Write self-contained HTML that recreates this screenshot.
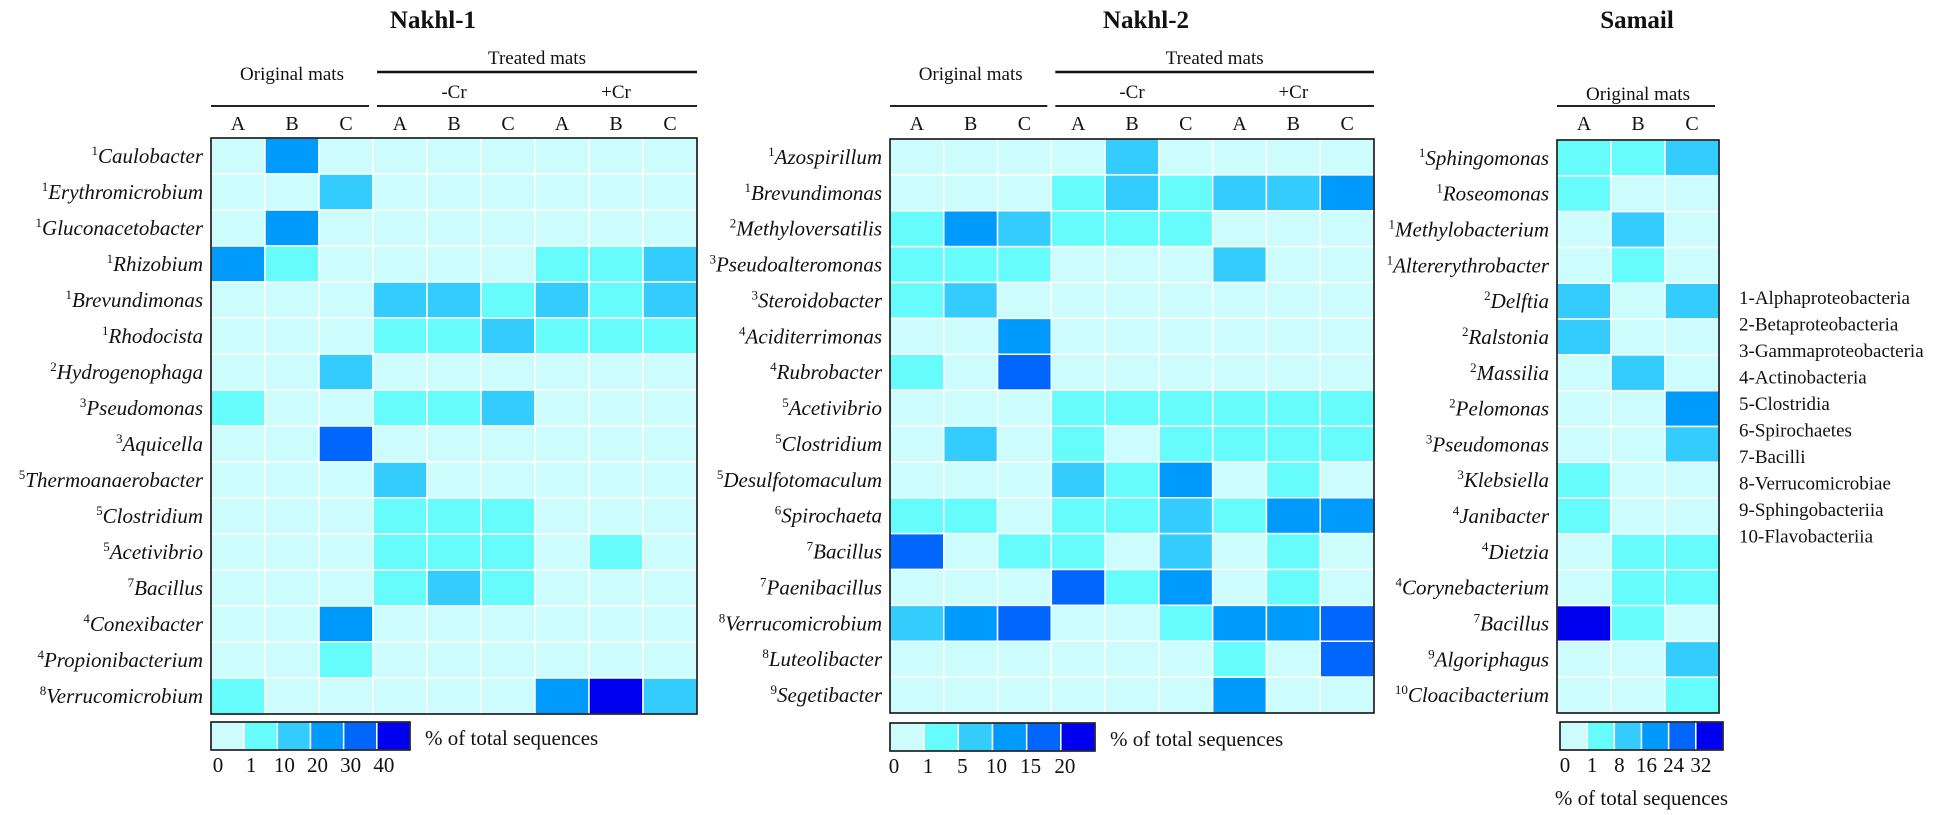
<!DOCTYPE html>
<html><head><meta charset="utf-8"><style>
html,body{margin:0;padding:0;background:#fff;}
svg text{font-family:"Liberation Serif",serif;fill:#111;}
</style></head><body>
<svg id="chart" width="1950" height="810" xmlns="http://www.w3.org/2000/svg"></svg>
<script>
const palette = ['#ccfcfc','#66fcfc','#33ccfc','#0099fc','#0066fc','#0000f0'];
const colLabels = ['A','B','C','A','B','C','A','B','C'];
const colLabels3 = ['A','B','C'];

const n1Rows = ['Caulobacter','Erythromicrobium','Gluconacetobacter','Rhizobium','Brevundimonas','Rhodocista','Hydrogenophaga','Pseudomonas','Aquicella','Thermoanaerobacter','Clostridium','Acetivibrio','Bacillus','Conexibacter','Propionibacterium','Verrucomicrobium'];
const n1Class = [1,1,1,1,1,1,2,3,3,5,5,5,7,4,4,8];
const n1Values = [
[0,3,0,0,0,0,0,0,0],[0,0,2,0,0,0,0,0,0],[0,3,0,0,0,0,0,0,0],[3,1,0,0,0,0,1,1,2],
[0,0,0,2,2,1,2,1,2],[0,0,0,1,1,2,1,1,1],[0,0,2,0,0,0,0,0,0],[1,0,0,1,1,2,0,0,0],
[0,0,4,0,0,0,0,0,0],[0,0,0,2,0,0,0,0,0],[0,0,0,1,1,1,0,0,0],[0,0,0,1,1,1,0,1,0],
[0,0,0,1,2,1,0,0,0],[0,0,3,0,0,0,0,0,0],[0,0,1,0,0,0,0,0,0],[1,0,0,0,0,0,3,5,2]];
const n1Ticks = ['0','1','10','20','30','40'];

const n2Rows = ['Azospirillum','Brevundimonas','Methyloversatilis','Pseudoalteromonas','Steroidobacter','Aciditerrimonas','Rubrobacter','Acetivibrio','Clostridium','Desulfotomaculum','Spirochaeta','Bacillus','Paenibacillus','Verrucomicrobium','Luteolibacter','Segetibacter'];
const n2Class = [1,1,2,3,3,4,4,5,5,5,6,7,7,8,8,9];
const n2Values = [
[0,0,0,0,2,0,0,0,0],[0,0,0,1,2,1,2,2,3],[1,3,2,1,1,1,0,0,0],[1,1,1,0,0,0,2,0,0],
[1,2,0,0,0,0,0,0,0],[0,0,3,0,0,0,0,0,0],[1,0,4,0,0,0,0,0,0],[0,0,0,1,1,1,1,1,1],
[0,2,0,1,0,1,1,1,1],[0,0,0,2,1,3,0,1,0],[1,1,0,1,1,2,1,3,3],[4,0,1,1,0,2,0,1,0],
[0,0,0,4,1,3,0,1,0],[2,3,4,0,0,1,3,3,4],[0,0,0,0,0,0,1,0,4],[0,0,0,0,0,0,3,0,0]];
const n2Ticks = ['0','1','5','10','15','20'];

const sRows = ['Sphingomonas','Roseomonas','Methylobacterium','Altererythrobacter','Delftia','Ralstonia','Massilia','Pelomonas','Pseudomonas','Klebsiella','Janibacter','Dietzia','Corynebacterium','Bacillus','Algoriphagus','Cloacibacterium'];
const sClass = [1,1,1,1,2,2,2,2,3,3,4,4,4,7,9,10];
const sValues = [[1,1,2],[1,0,0],[0,2,0],[0,1,0],[2,0,2],[2,0,0],[0,2,0],[0,0,3],[0,0,2],[1,0,0],[1,0,0],[0,1,1],[0,1,1],[5,1,0],[0,0,2],[0,0,1]];
const sTicks = ['0','1','8','16','24','32'];
const classLegend = ['1-Alphaproteobacteria','2-Betaproteobacteria','3-Gammaproteobacteria','4-Actinobacteria','5-Clostridia','6-Spirochaetes','7-Bacilli','8-Verrucomicrobiae','9-Sphingobacteriia','10-Flavobacteriia'];

const svg = document.getElementById('chart');
const NS = 'http://www.w3.org/2000/svg';
function mk(tag, attrs, parent){const e=document.createElementNS(NS,tag);for(const k in attrs)e.setAttribute(k,attrs[k]);(parent||svg).appendChild(e);return e;}
function txt(s, x, y, size, anchor, extra, parent){const t=mk('text',Object.assign({x:x,y:y,'font-size':size,'text-anchor':anchor||'middle'},extra||{}),parent);t.textContent=s;return t;}

function panel(key, title, titleX, rows, cls, vals, cols, x0, y0, w, h, treated, ticks, legMode){
  const g = mk('g',{});
  
  
  const nC = cols.length, nR = rows.length;
  const cw = w/nC, rh = h/nR;
  const xs = c => x0 + c*cw;
  const ys = r => y0 + r*rh;
  const tt = txt(title, titleX, 28, 25, 'middle', {'font-weight':'bold'}, g);
  
  
  // headers
  const origW = 3*cw;
  const ot = txt('Original mats', x0+origW/2, treated?80:100, 19, 'middle', {}, g);
  
  
  mk('line',{x1:x0,x2:x0+origW-4,y1:106,y2:106,stroke:'#222','stroke-width':2},g);
  if(treated){
    const tx = x0+origW+4, tw = w-origW-4;
    const th = txt('Treated mats', tx+tw/2, 64, 19, 'middle', {}, g);
    
    
    mk('line',{x1:tx,x2:x0+w,y1:72,y2:72,stroke:'#111','stroke-width':2.5},g);
    const m = txt('-Cr', x0+4.5*cw, 98, 19, 'middle', {}, g);
    
    
    const p = txt('+Cr', x0+7.5*cw, 98, 19, 'middle', {}, g);
    
    
    mk('line',{x1:tx,x2:x0+w,y1:106,y2:106,stroke:'#222','stroke-width':2},g);
  }
  cols.forEach((c,i)=>{
    const t = txt(c, xs(i)+cw/2, 130, 20, 'middle', {}, g);
    
    
  });
  // cells
  vals.forEach((row,r)=>{
    row.forEach((v,c)=>{
      const rc = mk('rect',{x:xs(c),y:ys(r),width:cw,height:rh,fill:palette[v],stroke:'#fff','stroke-width':1.5},g);
      
      
    });
  });
  mk('rect',{x:x0,y:y0,width:w,height:h,fill:'none',stroke:'#111','stroke-width':1.6},g);
  // row labels
  rows.forEach((name,r)=>{
    const t = mk('text',{x:x0-8,y:ys(r)+rh/2+7,'font-size':21,'text-anchor':'end','font-style':'italic'},g);
    const sup = document.createElementNS(NS,'tspan');
    sup.setAttribute('font-size','13'); sup.setAttribute('dy','-8'); sup.setAttribute('font-style','normal');
    sup.textContent = cls[r];
    const nm = document.createElementNS(NS,'tspan');
    nm.setAttribute('dy','8');
    nm.textContent = name;
    t.appendChild(sup); t.appendChild(nm);
    
    
  });
  // color legend
  const lx = legMode.x, ly = legMode.y, lw = legMode.w, lh = 28;
  const lc = lw/6;
  const lg = mk('g',{},g);
  
  
  palette.forEach((col,i)=>{
    const r = mk('rect',{x:lx+i*lc,y:ly,width:lc,height:lh,fill:col,stroke:'#fff','stroke-width':1.5},lg);
    
    
  });
  mk('rect',{x:lx,y:ly,width:lw,height:lh,fill:'none',stroke:'#111','stroke-width':1.6},lg);
  ticks.forEach((t,i)=>{
    const tx = txt(t, lx+i*lc+(legMode.tickOff||6), ly+lh+22, 21, 'middle', {}, lg);
    
    
  });
  const lt = legMode.below
    ? txt('% of total sequences', lx+lw/2, ly+lh+55, 21, 'middle', {}, lg)
    : txt('% of total sequences', lx+lw+15, ly+lh-5, 21, 'start', {}, lg);
  
  
}

panel('nakhl1','Nakhl-1',433,n1Rows,n1Class,n1Values,colLabels,211,138,486,576,true,n1Ticks,{x:211,y:722,w:199,tickOff:7});
panel('nakhl2','Nakhl-2',1146,n2Rows,n2Class,n2Values,colLabels,890,139,484,574,true,n2Ticks,{x:890,y:723,w:205,tickOff:4});
panel('samail','Samail',1637,sRows,sClass,sValues,colLabels3,1557,140,162,573,false,sTicks,{x:1560,y:722,w:163,tickOff:5,below:true});

const cl = mk('g',{});


classLegend.forEach((s,i)=>{
  const t = txt(s, 1739, 304+i*26.5, 19, 'start', {}, cl);
  
  
});
</script>
</body></html>
